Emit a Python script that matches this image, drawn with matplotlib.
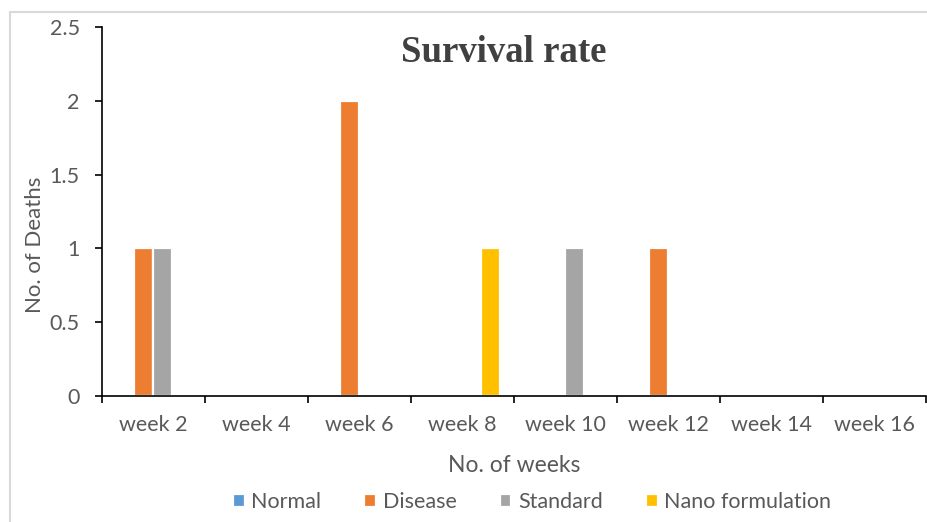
import numpy as np
import matplotlib.pyplot as plt
from matplotlib.lines import Line2D

weeks = ['week 2', 'week 4', 'week 6', 'week 8', 'week 10', 'week 12', 'week 14', 'week 16']
normal = [0, 0, 0, 0, 0, 0, 0, 0]
disease = [1, 0, 2, 0, 0, 1, 0, 0]
standard = [1, 0, 0, 0, 1, 0, 0, 0]
nano = [0, 0, 0, 1, 0, 0, 0, 0]

series = [('Normal', normal, '#5b9bd5'),
          ('Disease', disease, '#ed7d31'),
          ('Standard', standard, '#a5a5a5'),
          ('Nano formulation', nano, '#ffc000')]

W, H = 928, 522
fig = plt.figure(figsize=(W / 100, H / 100), dpi=100)
ax = fig.add_axes([102 / W, 1 - 396 / H, 824 / W, 369 / H])

x = np.arange(len(weeks))
slot = 0.185
for i, (name, vals, col) in enumerate(series):
    ax.bar(x + (i - 1.5) * slot - 0.005, vals, width=slot, color=col,
           edgecolor='white', linewidth=1.6, label=name)

ax.set_xlim(-0.5, len(weeks) - 0.5)
ax.set_ylim(0, 2.5)
ax.set_yticks([0, 0.5, 1, 1.5, 2, 2.5])
ax.set_yticklabels(['0', '0.5', '1', '1.5', '2', '2.5'])
ax.set_xticks(x)
ax.set_xticklabels(weeks)
ax.set_xticks(np.arange(len(weeks) + 1) - 0.5, minor=True)
ax.tick_params(axis='x', which='major', length=0, pad=14)
ax.tick_params(axis='x', which='minor', length=5, width=1.2, color='black', direction='out')
ax.tick_params(axis='y', length=5, width=1.2, direction='out', pad=11)
ax.tick_params(labelsize=15.5, labelcolor='#595959')
for lab in ax.get_xticklabels() + ax.get_yticklabels():
    lab.set_family('Lato')

for s in ['top', 'right']:
    ax.spines[s].set_visible(False)
ax.spines['left'].set_linewidth(1.2)
ax.spines['bottom'].set_linewidth(1.2)

ax.text(0.488, 0.93, 'Survival rate', transform=ax.transAxes, ha='center', va='center',
        family='Liberation Serif', fontweight='bold', fontsize=26.5, color='#404040')

fig.text(35 / W, 1 - 245 / H, 'No. of Deaths', rotation=90, ha='center', va='center',
         family='Lato', fontsize=16, color='#595959')
fig.text(514 / W, 1 - 466 / H, 'No. of weeks', ha='center', va='center',
         family='Lato', fontsize=16.5, color='#595959')

leg = fig.legend(loc='center', bbox_to_anchor=(532 / W, 1 - 502 / H), ncol=4, frameon=False,
                 handlelength=0.55, handleheight=0.55, handletextpad=0.3, columnspacing=2.0,
                 prop={'family': 'Lato', 'size': 15.5})
for t in leg.get_texts():
    t.set_color('#595959')

# light frame around the chart
fig.add_artist(Line2D([10 / W, 10 / W], [0, 1 - 12 / H], transform=fig.transFigure,
                      color='#d9d9d9', linewidth=1.5))
fig.add_artist(Line2D([10 / W, 1], [1 - 12 / H, 1 - 12 / H], transform=fig.transFigure,
                      color='#d9d9d9', linewidth=1.5))

fig.savefig('out.png', dpi=100)
